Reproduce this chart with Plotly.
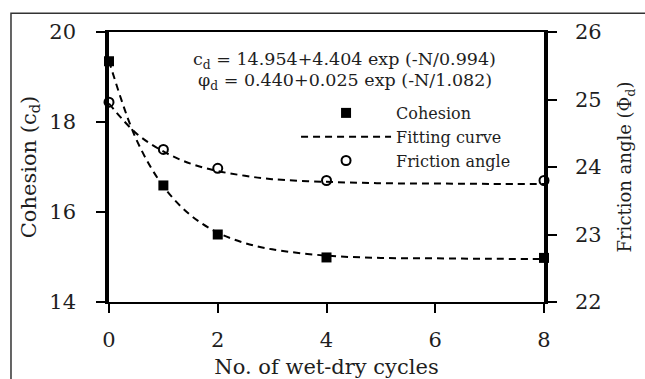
import plotly.graph_objects as go

# ---- data ----
cycles = [0, 1, 2, 4, 8]
cohesion = [19.35, 16.59, 15.50, 14.99, 14.98]
friction = [24.96, 24.26, 23.98, 23.80, 23.80]

# fitted curves
fit_n = [0, 0.5, 1, 1.5, 2, 2.5, 3, 4, 5, 6, 7, 8]
fit_cohesion = [19.36, 17.62, 16.57, 15.93, 15.54, 15.31, 15.17, 15.03, 14.98, 14.97, 14.96, 14.955]
fit_friction = [24.94, 24.50, 24.23, 24.05, 23.94, 23.87, 23.82, 23.78, 23.76, 23.755, 23.75, 23.75]

x_ticks = [0, 2, 4, 6, 8]
y_ticks = [14, 16, 18, 20]
y2_ticks = [22, 23, 24, 25, 26]

eq1 = "c<sub>d</sub> = 14.954+4.404 exp (-N/0.994)"
eq2 = "φ<sub>d</sub> = 0.440+0.025 exp (-N/1.082)"

FONT = "DejaVu Serif"
INK = "#1e1e1e"

fig = go.Figure()
fig.add_trace(go.Scatter(
    x=cycles, y=cohesion, mode="markers", name="Cohesion",
    marker=dict(symbol="square", size=10, color="black"),
    cliponaxis=False, legendrank=1))
fig.add_trace(go.Scatter(
    x=fit_n, y=fit_cohesion, mode="lines", name="Fitting curve",
    line=dict(color="black", width=2, dash="7px,5px", shape="spline"),
    legendrank=2))
fig.add_trace(go.Scatter(
    x=fit_n, y=fit_friction, mode="lines", name="Fitting curve",
    line=dict(color="black", width=2, dash="7px,5px", shape="spline"),
    yaxis="y2", showlegend=False))
fig.add_trace(go.Scatter(
    x=cycles, y=friction, mode="markers", name="Friction angle",
    marker=dict(symbol="circle-open", size=9, color="black", line=dict(width=2)),
    yaxis="y2", cliponaxis=False, legendrank=3))

fig.update_layout(
    width=645, height=379,
    margin=dict(l=109, r=101, t=32, b=77, autoexpand=False),
    paper_bgcolor="white", plot_bgcolor="white",
    font=dict(family=FONT, color=INK, size=21),
    showlegend=True,
    legend=dict(x=0.43, y=0.763, xanchor="left", yanchor="top",
                bgcolor="rgba(0,0,0,0)", font=dict(size=16, family=FONT),
                itemwidth=90, tracegroupgap=0),
    xaxis=dict(range=[0, 8], tickvals=x_ticks, showgrid=False, zeroline=False,
               showline=True, linecolor="black", linewidth=2, mirror=True,
               ticks="outside", ticklen=9, tickwidth=2, tickcolor="black",
               ticklabelstandoff=9, automargin=False,
               title=dict(text="No. of wet-dry cycles", standoff=14, font=dict(size=21))),
    yaxis=dict(range=[14, 20], tickvals=y_ticks, showgrid=False, zeroline=False,
               showline=True, linecolor="black", linewidth=3.5,
               ticks="outside", ticklen=9, tickwidth=2, tickcolor="black",
               ticklabelstandoff=16, automargin=False,
               title=dict(text="Cohesion (c<sub>d</sub>)", standoff=8, font=dict(size=21))),
    yaxis2=dict(range=[22, 26], tickvals=y2_ticks, overlaying="y", side="right",
                showgrid=False, zeroline=False,
                showline=True, linecolor="black", linewidth=3.5,
                ticks="outside", ticklen=9, tickwidth=2, tickcolor="black",
                ticklabelstandoff=14, automargin=False,
                title=dict(text="Friction angle (Φ<sub>d</sub>)", standoff=19, font=dict(size=18))),
    annotations=[
        dict(text=eq1, x=0.5425, y=0.936, xref="paper", yref="paper",
             showarrow=False, height=19, font=dict(size=17.5, family=FONT)),
        dict(text=eq2, x=0.5425, y=0.861, xref="paper", yref="paper",
             showarrow=False, height=19, font=dict(size=17.5, family=FONT)),
    ],
    shapes=[dict(type="rect", xref="paper", yref="paper",
                 x0=-0.2253, x1=1.6, y0=-0.6, y1=1.069,
                 line=dict(color="#333333", width=1.5), layer="below")],
)

fig.write_html("out.html")
